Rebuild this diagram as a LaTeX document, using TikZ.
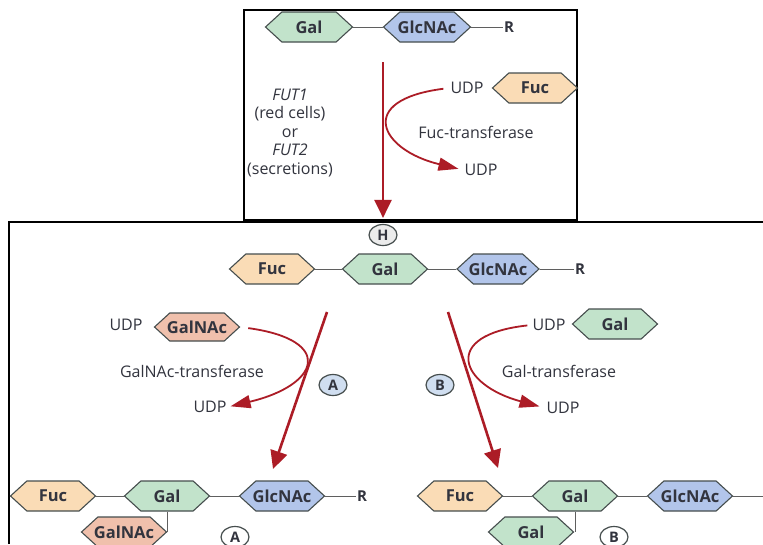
\documentclass[tikz,border=0pt]{standalone}
\usepackage{fontspec}
\setmainfont{Open Sans}
\usetikzlibrary{shapes.symbols,shapes.geometric,arrows.meta}
\definecolor{galc}{RGB}{194,227,203}
\definecolor{glcc}{RGB}{178,197,234}
\definecolor{fucc}{RGB}{250,220,182}
\definecolor{galnacc}{RGB}{240,192,172}
\definecolor{edgec}{RGB}{70,78,78}
\definecolor{arrc}{RGB}{172,28,38}
\definecolor{txtc}{RGB}{50,52,62}
\definecolor{bondc}{RGB}{95,95,95}
\definecolor{tagblue}{RGB}{208,222,240}
\newcommand\hxt[1]{\makebox[0pt]{#1}}
\tikzset{
 sugar/.style={signal, signal to=west and east, signal pointer angle=85, draw=edgec, line width=1.1pt,
   minimum width=85pt, minimum height=30pt, inner sep=0pt, font=\fontsize{16.5}{17}\selectfont\bfseries, text=txtc},
 galbox/.style={sugar, fill=galc},
 glcbox/.style={sugar, fill=glcc},
 fucbox/.style={sugar, fill=fucc},
 galnacbox/.style={sugar, fill=galnacc},
 bond/.style={draw=bondc, line width=1pt},
 lbl/.style={font=\fontsize{16}{18}\selectfont, text=txtc, inner sep=1pt},
 rlbl/.style={font=\fontsize{15}{17}\selectfont\bfseries, text=txtc, inner sep=1pt},
 rxn/.style={draw=arrc, line width=2.6pt, -{Triangle[length=18pt,width=17pt]}},
 side/.style={draw=arrc, line width=1.8pt, -{Triangle[length=20pt,width=13pt]}},
 tagc/.style={ellipse, draw=edgec, line width=1.2pt, minimum width=28pt, minimum height=21pt, inner sep=0pt,
   font=\fontsize{14.5}{14.5}\selectfont\bfseries, text=txtc},
}
\begin{document}
\begin{tikzpicture}[x=1pt,y=-1pt]
\clip (0,0) rectangle (763,544);
\fill[white] (0,0) rectangle (763,544);
% frames
\draw[line width=1.2pt] (244,10) rectangle (577,220);
\draw[line width=1.2pt] (9,544) -- (9,222) -- (763,222);

% ---------- top box ----------
\node[galbox, minimum width=87pt] (g0) at (309,27) {\hxt{Gal}};
\node[glcbox, minimum width=87pt] (n0) at (427,27) {\hxt{GlcNAc}};
\node[rlbl] (r0) at (509,27) {R};
\draw[bond] (g0.east) -- (n0.west);
\draw[bond] (n0.east) -- (r0.west);

\node[lbl] (u1) at (467,88) {UDP};
\node[fucbox] (f0) at (535,88) {\hxt{Fuc}};
\node[lbl] (ft) at (476,132) {Fuc-transferase};
\node[lbl] (u2) at (481,170) {UDP};
\node[lbl, align=center, font=\fontsize{16}{18.5}\selectfont] (fut) at (290,133)
  {\textit{FUT1}\\(red cells)\\or\\\textit{FUT2}\\(secretions)};

\node[tagc, fill=gray!15] (H) at (383,235) {H};
\coordinate (t0) at (383,62);
\draw[rxn, shorten >=6pt] (t0) -- (H.north);
\draw[side, shorten <=6pt, shorten >=5pt] (u1.west) .. controls (355,100) and (380,150) .. (u2.west);

% ---------- H antigen ----------
\node[fucbox] (f1) at (272,269) {\hxt{Fuc}};
\node[galbox] (g1) at (385,269) {\hxt{Gal}};
\node[glcbox, minimum width=82pt] (n1) at (498,269) {\hxt{GlcNAc}};
\node[rlbl] (r1) at (580,269) {R};
\draw[bond] (f1.east) -- (g1.west);
\draw[bond] (g1.east) -- (n1.west);
\draw[bond] (n1.east) -- (r1.west);

% ---------- A branch ----------
\node[lbl] (u3) at (126,325) {UDP};
\node[galnacbox, minimum height=28pt] (gn1) at (197,327) {\hxt{GalNAc}};
\node[lbl] (gt) at (192,371) {GalNAc-transferase};
\node[lbl] (u4) at (210,407) {UDP};
\node[tagc, fill=tagblue] (A1) at (333,385) {A};
\coordinate (aS) at (327,312);
\coordinate (aE) at (273,469);
\draw[rxn] (aS) -- (aE);
\draw[side, shorten <=8pt, shorten >=3pt] (gn1.east) .. controls (335,340) and (320,385) .. (u4.east);

% ---------- B branch ----------
\node[lbl] (u5) at (549,325) {UDP};
\node[galbox] (g2) at (615,324) {\hxt{Gal}};
\node[lbl] (galt) at (559,371) {Gal-transferase};
\node[lbl] (u6) at (563,408) {UDP};
\node[tagc, fill=tagblue] (B1) at (440,385) {B};
\coordinate (bS) at (448,312);
\coordinate (bE) at (498,468);
\draw[rxn] (bS) -- (bE);
\draw[side, shorten <=4pt, shorten >=6pt] (u5.west) .. controls (440,335) and (460,385) .. (u6.west);

% ---------- A antigen ----------
\node[fucbox] (f2) at (53,496) {\hxt{Fuc}};
\node[galbox] (g3) at (167,496) {\hxt{Gal}};
\node[glcbox] (n2) at (282,496) {\hxt{GlcNAc}};
\node[rlbl] (r2) at (362,496) {R};
\draw[bond] (f2.east) -- (g3.west);
\draw[bond] (g3.east) -- (n2.west);
\draw[bond] (n2.east) -- (r2.west);
\node[galnacbox] (gn2) at (124,532) {\hxt{GalNAc}};
\draw[bond] (g3.south) -- (g3.south |- gn2.east);
\node[tagc, fill=white] (A2) at (235,537) {A};

% ---------- B antigen ----------
\node[fucbox] (f3) at (460,496) {\hxt{Fuc}};
\node[galbox] (g4) at (575,496) {\hxt{Gal}};
\node[glcbox] (n3) at (690,496) {\hxt{GlcNAc}};
\coordinate (r3) at (763,496);
\draw[bond] (f3.east) -- (g4.west);
\draw[bond] (g4.east) -- (n3.west);
\draw[bond] (n3.east) -- (r3);
\node[galbox] (g5) at (531,532) {\hxt{Gal}};
\draw[bond] (g4.south) -- (g4.south |- g5.east);
\node[tagc, fill=white] (B2) at (614,537) {B};
\end{tikzpicture}
\end{document}
